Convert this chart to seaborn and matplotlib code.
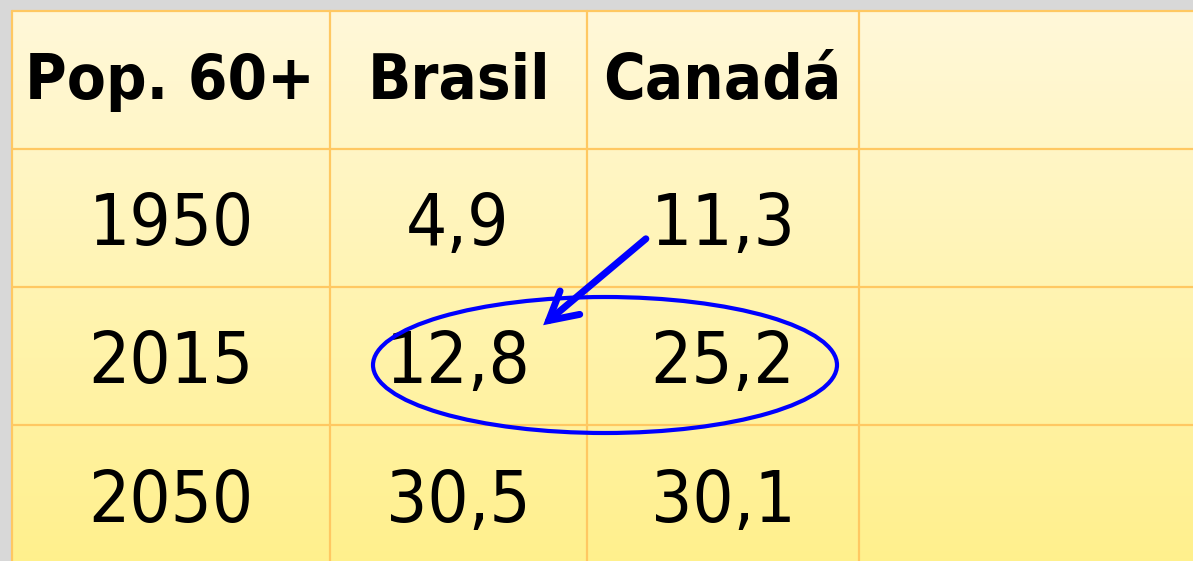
import matplotlib.pyplot as plt
import seaborn as sns
import numpy as np
from matplotlib.colors import LinearSegmentedColormap
from matplotlib.patches import Ellipse, FancyArrowPatch
from matplotlib import font_manager

# table content
header = ['Pop. 60+', 'Brasil', 'Canadá', '']
years = ['1950', '2015', '2050']
brasil = ['4,9', '12,8', '30,5']
canada = ['11,3', '25,2', '30,1']

sns.set_theme(style='white')
plt.rcParams['font.family'] = ['DejaVu Sans']

# use the condensed DejaVu face if it is there
has_cond = any('Condensed' in f.name or f.stretch == 'condensed' or 'Condensed' in f.fname
               for f in font_manager.fontManager.ttflist if 'DejaVu' in f.name)
stretch = 'condensed' if has_cond else 'normal'

W, H = 1193, 561
fig = plt.figure(figsize=(W / 100, H / 100), dpi=100)
fig.patch.set_facecolor('#d8d8d8')
ax = fig.add_axes([0, 0, 1, 1])
ax.set_xlim(0, W)
ax.set_ylim(H, 0)
ax.axis('off')

# table geometry (pixels)
x0, y0 = 12, 11
col_edges = [x0, 330, 587, 859, W + 5]
row_edges = [y0, 149, 287, 425, H + 5]
line_col = '#ffc862'

# vertical gradient background
grad = np.linspace(0, 1, 256).reshape(-1, 1)
cmap = LinearSegmentedColormap.from_list('tbl', ['#fff8d9', '#fff08c'])
ax.imshow(grad, cmap=cmap, aspect='auto', extent=[x0, W + 5, H + 5, y0], zorder=1)

for x in col_edges[:-1]:
    ax.plot([x, x], [y0, H + 5], color=line_col, lw=1.6, zorder=2)
for y in row_edges[:-1]:
    ax.plot([x0, W + 5], [y, y], color=line_col, lw=1.6, zorder=2)

def cy(j):
    return (row_edges[j] + row_edges[j + 1]) / 2

hdr_x = [170, 459, 722]
for i, h in enumerate(header[:3]):
    ax.text(hdr_x[i], cy(0) + 2, h, ha='center', va='center', fontsize=45.5,
            fontweight='bold', fontstretch=stretch, color='black', zorder=3)

val_x = [171, 458, 723]
for j in range(3):
    for i, val in enumerate([years[j], brasil[j], canada[j]]):
        ax.text(val_x[i], cy(j + 1) + 7, val, ha='center', va='center',
                fontsize=52, fontstretch=stretch, color='black', zorder=3)

# annotation: ellipse around 2015 values and arrow
ax.add_patch(Ellipse((605, 365), 464, 136, fill=False, edgecolor='#0000ff',
                     lw=3, zorder=4))
ax.add_patch(FancyArrowPatch((648, 237), (541, 327), arrowstyle='->,head_length=20,head_width=11',
                             color='#0000ff', lw=5, mutation_scale=1,
                             capstyle='round', joinstyle='miter', zorder=4))

fig.savefig('out.png', dpi=100, facecolor=fig.get_facecolor())
